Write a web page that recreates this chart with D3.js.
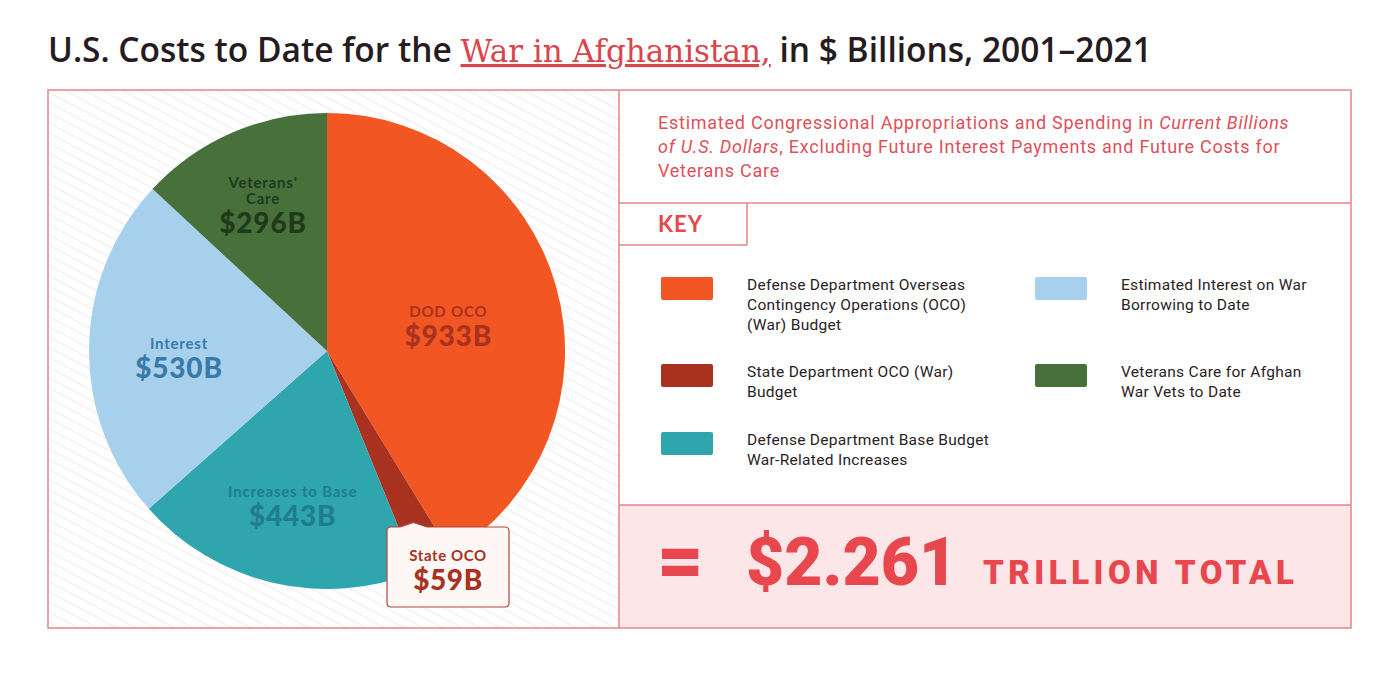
<!DOCTYPE html>
<html>
<head>
<meta charset="utf-8">
<script src="https://cdn.jsdelivr.net/npm/d3@7"></script>
<style>
  body { margin: 0; background: #fff; }
  svg { display: block; }
</style>
</head>
<body>
<svg id="chart" width="1400" height="676"></svg>
<script>
// data
var categories = ['DOD OCO', 'State OCO', 'Increases to Base', 'Interest', "Veterans' Care"];
var values = [933, 59, 443, 530, 296];
var colors = ['#f25623', '#a8321f', '#2fa5ae', '#a7d0ec', '#47703b'];
var labelColors = ['#a8321f', '#a8321f', '#1f7d8c', '#3b7aa8', '#1f3a1b'];
var keyLabels = [
  ['Defense Department Overseas', 'Contingency Operations (OCO)', '(War) Budget'],
  ['State Department OCO (War)', 'Budget'],
  ['Defense Department Base Budget', 'War-Related Increases'],
  ['Estimated Interest on War', 'Borrowing to Date'],
  ['Veterans Care for Afghan', 'War Vets to Date']
];
var totalLabel = '$2.261';

var svg = d3.select('#chart');
var red = '#e8474d';
var frame = '#e3868b';

// title
var title = svg.append('text')
  .attr('x', 48)
  .attr('y', 62)
  .attr('font-family', 'Open Sans, sans-serif')
  .attr('font-weight', 600)
  .attr('font-size', 33.5)
  .attr('fill', '#261b20');
title.append('tspan').text('U.S. Costs to Date for the ');
title.append('tspan')
  .attr('font-family', 'DejaVu Serif, Liberation Serif, serif')
  .attr('font-weight', 'normal')
  .attr('font-size', 31)
  .attr('fill', '#d8454c')
  .attr('text-decoration', 'underline')
  .text('War in Afghanistan,');
title.append('tspan').text(' in $ Billions, 2001\u20132021');

// hatch pattern for the pie panel
var defs = svg.append('defs');
var pat = defs.append('pattern')
  .attr('id', 'hatch')
  .attr('patternUnits', 'userSpaceOnUse')
  .attr('width', 9)
  .attr('height', 9)
  .attr('patternTransform', 'rotate(28)');
pat.append('rect').attr('width', 9).attr('height', 9).attr('fill', '#fff');
pat.append('line')
  .attr('x1', 0).attr('y1', 4.5).attr('x2', 9).attr('y2', 4.5)
  .attr('stroke', '#efefef').attr('stroke-width', 1.2);

// panels
svg.append('rect')
  .attr('x', 48).attr('y', 90).attr('width', 571).attr('height', 538)
  .attr('fill', 'url(#hatch)');
svg.append('rect')
  .attr('x', 619).attr('y', 505).attr('width', 732).attr('height', 123)
  .attr('fill', '#fde6e8');

var lines = [
  [619, 90, 619, 628],
  [619, 203, 1351, 203],
  [747, 203, 747, 245],
  [619, 245, 747, 245],
  [619, 505, 1351, 505]
];
svg.selectAll('line.grid')
  .data(lines)
  .enter()
  .append('line')
  .attr('class', 'grid')
  .attr('x1', function(d) { return d[0]; })
  .attr('y1', function(d) { return d[1]; })
  .attr('x2', function(d) { return d[2]; })
  .attr('y2', function(d) { return d[3]; })
  .attr('stroke', frame)
  .attr('stroke-width', 1.5);
svg.append('rect')
  .attr('x', 48).attr('y', 90).attr('width', 1303).attr('height', 538)
  .attr('fill', 'none')
  .attr('stroke', frame)
  .attr('stroke-width', 1.5);

// pie
var cx = 327, cy = 351, radius = 238;
var pieData = d3.pie().sort(null)(values);
var arc = d3.arc().innerRadius(0).outerRadius(radius);
var g = svg.append('g').attr('transform', 'translate(' + cx + ',' + cy + ')');

g.selectAll('path')
  .data(pieData)
  .enter()
  .append('path')
  .attr('d', arc)
  .attr('fill', function(d, i) { return colors[i]; });

// slice labels (the State OCO one sits in a callout)
var labelRadius = [126, 0, 150, 148, 160];
var nameFont = 'Lato, Open Sans, sans-serif';

pieData.forEach(function(d, i) {
  if (i === 1) return;
  var a = (d.startAngle + d.endAngle) / 2;
  var x = Math.sin(a) * labelRadius[i];
  var y = -Math.cos(a) * labelRadius[i];
  var names = categories[i] === "Veterans' Care" ? ["Veterans'", 'Care'] : [categories[i]];
  var t = g.append('text')
    .attr('text-anchor', 'middle')
    .attr('font-family', nameFont)
    .attr('font-weight', 'bold')
    .attr('fill', labelColors[i]);
  var y0 = y - (names.length - 1) * 16;
  names.forEach(function(n, k) {
    t.append('tspan')
      .attr('x', x)
      .attr('y', y0 + k * 16)
      .attr('font-size', 15)
      .attr('letter-spacing', 0.8)
      .text(n);
  });
  t.append('tspan')
    .attr('x', x)
    .attr('y', y + 29)
    .attr('font-size', 28)
    .attr('font-weight', 900)
    .attr('letter-spacing', 0.8)
    .text('$' + values[i] + 'B');
});

// callout for the thin State OCO slice
var s = pieData[1];
var sa = (s.startAngle + s.endAngle) / 2;
var tip = [Math.sin(sa) * 192, -Math.cos(sa) * 192];
var bx = 60, by = 176, bw = 122, bh = 80;
g.append('path')
  .attr('d', 'M' + (bx + 4) + ',' + by +
    'L' + (bx + 13) + ',' + by +
    'L' + tip[0] + ',' + tip[1] +
    'L' + (bx + 40) + ',' + by +
    'L' + (bx + bw - 4) + ',' + by +
    'Q' + (bx + bw) + ',' + by + ' ' + (bx + bw) + ',' + (by + 4) +
    'L' + (bx + bw) + ',' + (by + bh - 4) +
    'Q' + (bx + bw) + ',' + (by + bh) + ' ' + (bx + bw - 4) + ',' + (by + bh) +
    'L' + (bx + 4) + ',' + (by + bh) +
    'Q' + bx + ',' + (by + bh) + ' ' + bx + ',' + (by + bh - 4) +
    'L' + bx + ',' + (by + 4) +
    'Q' + bx + ',' + by + ' ' + (bx + 4) + ',' + by + 'Z')
  .attr('fill', '#fdf7f5')
  .attr('stroke', '#b0463a')
  .attr('stroke-width', 1.2);
var st = g.append('text')
  .attr('text-anchor', 'middle')
  .attr('font-family', nameFont)
  .attr('font-weight', 'bold')
  .attr('fill', labelColors[1]);
st.append('tspan').attr('x', bx + bw / 2).attr('y', by + 34).attr('font-size', 15).attr('letter-spacing', 0.6).text(categories[1]);
st.append('tspan').attr('x', bx + bw / 2).attr('y', by + 63).attr('font-size', 28).attr('font-weight', 900).attr('letter-spacing', 0.6).text('$' + values[1] + 'B');

// subtitle
var sub = svg.append('text')
  .attr('font-family', 'Roboto, sans-serif')
  .attr('font-size', 18)
  .attr('letter-spacing', 0.75)
  .attr('fill', '#e0505a');
sub.append('tspan').attr('x', 658).attr('y', 129).text('Estimated Congressional Appropriations and Spending in ');
sub.append('tspan').attr('font-style', 'italic').text('Current Billions');
sub.append('tspan').attr('x', 658).attr('y', 153).attr('font-style', 'italic').text('of U.S. Dollars');
sub.append('tspan').text(', Excluding Future Interest Payments and Future Costs for');
sub.append('tspan').attr('x', 658).attr('y', 177).text('Veterans Care');

svg.append('text')
  .attr('x', 658).attr('y', 232)
  .attr('font-family', 'Lato, sans-serif')
  .attr('font-weight', 'bold')
  .attr('font-size', 22)
  .attr('letter-spacing', 1)
  .attr('fill', red)
  .text('KEY');

// key
var keyPos = [[661, 277], [661, 364], [661, 432], [1035, 277], [1035, 364]];
var key = svg.selectAll('g.key')
  .data(categories)
  .enter()
  .append('g')
  .attr('class', 'key')
  .attr('transform', function(d, i) { return 'translate(' + keyPos[i][0] + ',' + keyPos[i][1] + ')'; });
key.append('rect')
  .attr('width', 52).attr('height', 23).attr('rx', 2)
  .attr('fill', function(d, i) { return colors[i]; });
key.append('text')
  .attr('font-family', 'Roboto, sans-serif')
  .attr('font-size', 15.5)
  .attr('letter-spacing', 0.3)
  .attr('fill', '#2a2226')
  .each(function(d, i) {
    var t = d3.select(this);
    keyLabels[i].forEach(function(l, k) {
      t.append('tspan').attr('x', 86).attr('y', 13 + k * 20).text(l);
    });
  });

// total
svg.append('text')
  .attr('x', 657).attr('y', 587)
  .attr('font-family', 'Roboto, sans-serif')
  .attr('font-weight', 900)
  .attr('font-size', 80)
  .attr('fill', red)
  .text('=');
svg.append('text')
  .attr('x', 746).attr('y', 585)
  .attr('font-family', 'Roboto, sans-serif')
  .attr('font-weight', 900)
  .attr('font-size', 66)
  .attr('fill', red)
  .text(totalLabel);
svg.append('text')
  .attr('x', 983).attr('y', 584)
  .attr('font-family', 'Roboto, sans-serif')
  .attr('font-weight', 900)
  .attr('font-size', 33)
  .attr('letter-spacing', 4.5)
  .attr('fill', red)
  .text('TRILLION TOTAL');
</script>
</body>
</html>
